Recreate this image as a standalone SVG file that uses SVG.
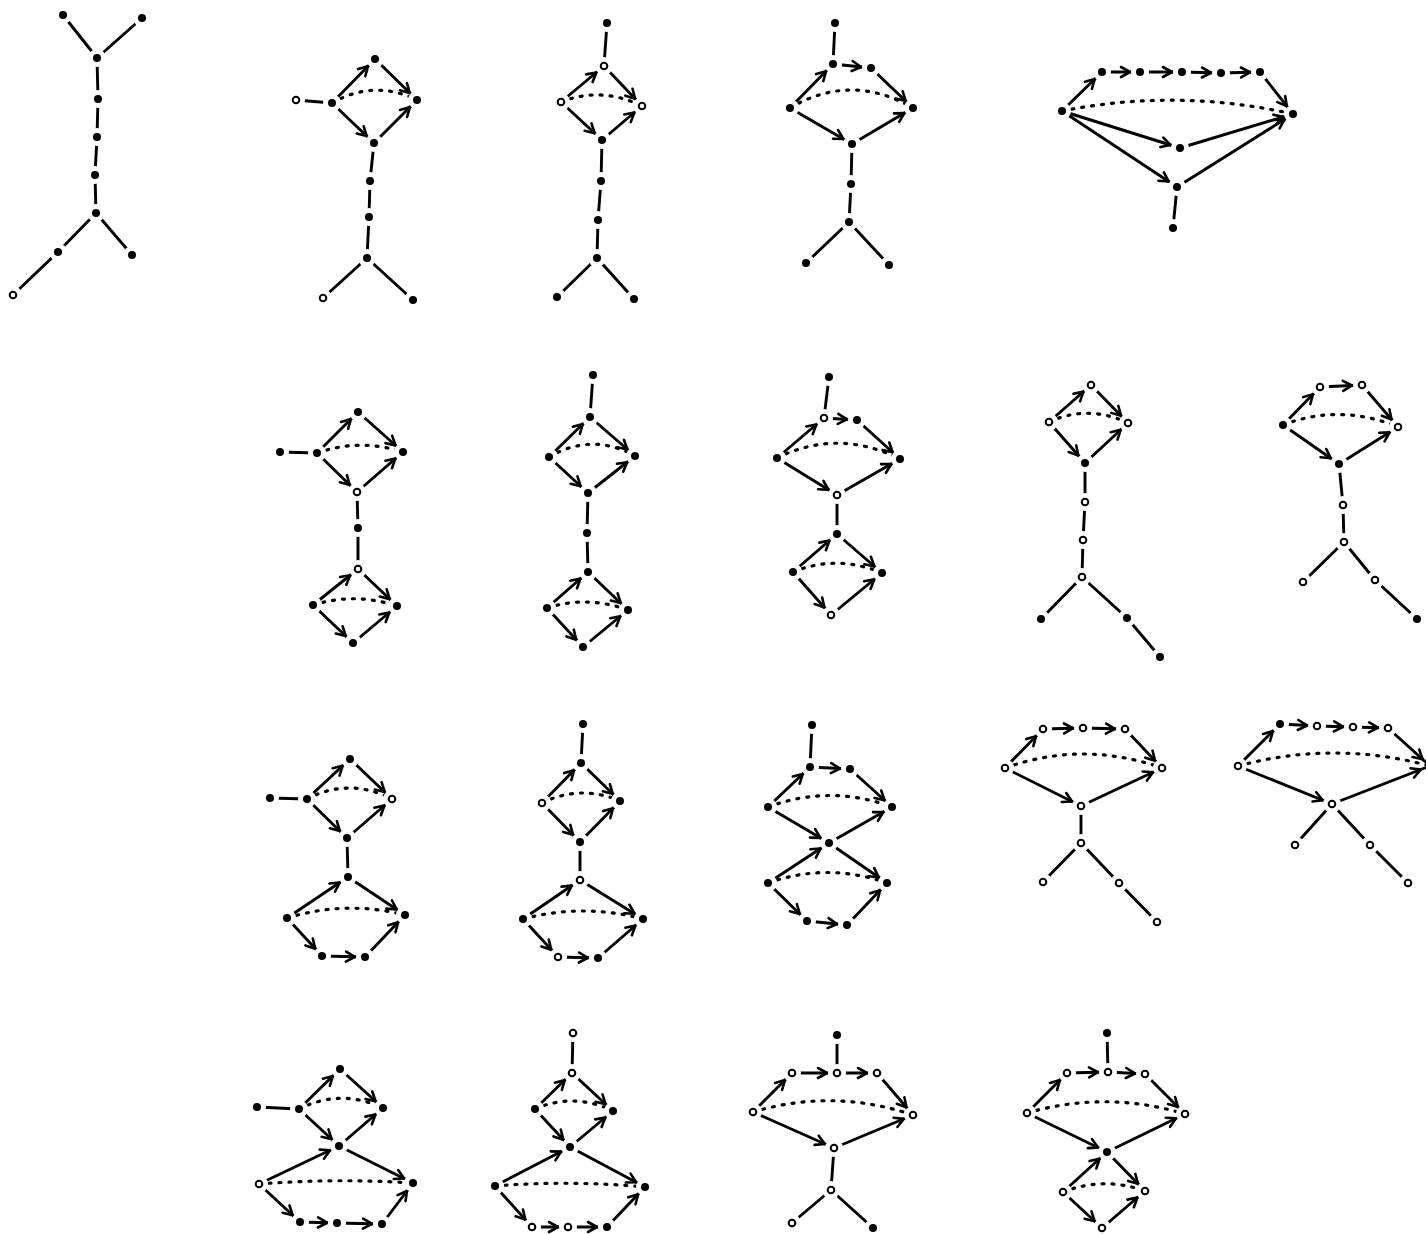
<svg xmlns="http://www.w3.org/2000/svg" xmlns:xlink="http://www.w3.org/1999/xlink" width="1426" height="1234" viewBox="0 0 1426 1234">
<style>
.l{fill:none;stroke:#000;stroke-width:2.9;stroke-linecap:round}
.a{fill:none;stroke:#000;stroke-width:2.9;stroke-linecap:round;marker-end:url(#ah)}
.d{fill:none;stroke:#000;stroke-width:3.2;stroke-linecap:round;stroke-dasharray:2 8}
</style>
<defs>
<marker id="ah" markerUnits="userSpaceOnUse" markerWidth="30" markerHeight="20" refX="20" refY="5" orient="auto" overflow="visible">
<path d="M1,0 L10,5 L1,10" fill="none" stroke="#000" stroke-width="2.6" stroke-linecap="round" stroke-linejoin="round"/>
</marker>
<g id="F"><circle r="9" fill="#fff"/><circle r="4" fill="#000"/></g>
<g id="O"><circle r="9" fill="#fff"/><circle r="3.3" fill="#fff" stroke="#000" stroke-width="2"/></g>
</defs>
<rect width="1426" height="1234" fill="#fff"/>
<g id="connectors">
<!-- G1 -->
<path class="l" d="M63,15L97,58M142,18L97,58M97,58L98,99M98,99L97,137M97,137L95,175M95,175L96,213M96,213L58,252M58,252L13,295M96,213L132,255"/>
<!-- G2 -->
<path class="l" d="M296,100L332,103M374,143L370,181M370,181L369,217M369,217L367,258M367,258L323,298M367,258L413,300"/>
<path class="a" d="M332,103L375,59"/><path class="a" d="M375,59L417,100"/><path class="a" d="M332,103L374,143"/><path class="a" d="M374,143L417,100"/>
<path class="d" d="M332,103Q374,79 417,100"/>
<!-- G3 -->
<path class="l" d="M607,23L604,66M602,140L601,181M601,181L598,220M598,220L597,258M597,258L557,297M597,258L634,299"/>
<path class="a" d="M561,102L604,66"/><path class="a" d="M604,66L642,106"/><path class="a" d="M561,102L602,140"/><path class="a" d="M602,140L642,106"/>
<path class="d" d="M561,102Q601,86 642,106"/>
<!-- G4 -->
<path class="l" d="M835,23L833,64M852,144L851,184M851,184L849,222M849,222L806,263M849,222L889,265"/>
<path class="a" d="M790,108L833,64"/><path class="a" d="M833,64L871,68"/><path class="a" d="M871,68L913,108"/><path class="a" d="M790,108L852,144"/><path class="a" d="M852,144L913,108"/>
<path class="d" d="M790,108Q851,72 913,108"/>
<!-- G5 -->
<path class="l" d="M1177,187L1173,228"/>
<path class="a" d="M1062,111L1102,72"/><path class="a" d="M1102,72L1140,72"/><path class="a" d="M1140,72L1182,72"/><path class="a" d="M1182,72L1221,73"/><path class="a" d="M1221,73L1260,72"/><path class="a" d="M1260,72L1293,114"/><path class="a" d="M1062,111L1180,148"/><path class="a" d="M1180,148L1293,114"/><path class="a" d="M1062,111L1177,187"/><path class="a" d="M1177,187L1293,114"/>
<path class="d" d="M1062,111Q1177,88 1293,114"/>
<!-- G6 -->
<path class="l" d="M280,452L317,453M357,492L358,528M358,528L358,569"/>
<path class="a" d="M317,453L358,412"/><path class="a" d="M358,412L403,452"/><path class="a" d="M317,453L357,492"/><path class="a" d="M357,492L403,452"/>
<path class="a" d="M313,605L358,569"/><path class="a" d="M358,569L397,606"/><path class="a" d="M313,605L353,643"/><path class="a" d="M353,643L397,606"/>
<path class="d" d="M317,453Q360,438 403,452"/><path class="d" d="M313,605Q355,592 397,606"/>
<!-- G7 -->
<path class="l" d="M593,375L590,417M588,493L587,533M587,533L588,572"/>
<path class="a" d="M549,457L590,417"/><path class="a" d="M590,417L635,456"/><path class="a" d="M549,457L588,493"/><path class="a" d="M588,493L635,456"/>
<path class="a" d="M547,608L588,572"/><path class="a" d="M588,572L628,610"/><path class="a" d="M547,608L583,647"/><path class="a" d="M583,647L628,610"/>
<path class="d" d="M549,457Q592,432 635,456"/><path class="d" d="M547,608Q587,595 628,610"/>
<!-- G8 -->
<path class="l" d="M829,377L824,418M837,495L837,534"/>
<path class="a" d="M777,458L824,418"/><path class="a" d="M824,418L857,420"/><path class="a" d="M857,420L900,459"/><path class="a" d="M777,458L837,495"/><path class="a" d="M837,495L900,459"/>
<path class="a" d="M793,572L837,534"/><path class="a" d="M837,534L882,573"/><path class="a" d="M793,572L831,615"/><path class="a" d="M831,615L882,573"/>
<path class="d" d="M777,458Q838,428 900,459"/><path class="d" d="M793,572Q837,554 882,573"/>
<!-- G9 -->
<path class="l" d="M1085,463L1085,502M1085,502L1083,540M1083,540L1082,577M1082,577L1041,619M1082,577L1127,618M1127,618L1160,657"/>
<path class="a" d="M1049,422L1091,385"/><path class="a" d="M1091,385L1128,423"/><path class="a" d="M1049,422L1085,463"/><path class="a" d="M1085,463L1128,423"/>
<path class="d" d="M1049,422Q1088,404 1128,423"/>
<!-- G10 -->
<path class="l" d="M1339,464L1343,505M1343,505L1344,542M1344,542L1303,582M1344,542L1375,580M1375,580L1417,619"/>
<path class="a" d="M1283,425L1320,387"/><path class="a" d="M1320,387L1362,385"/><path class="a" d="M1362,385L1398,427"/><path class="a" d="M1283,425L1339,464"/><path class="a" d="M1339,464L1398,427"/>
<path class="d" d="M1283,425Q1340,403 1398,427"/>
<!-- G11 -->
<path class="l" d="M270,798L307,799M347,838L348,877"/>
<path class="a" d="M307,799L350,759"/><path class="a" d="M350,759L392,799"/><path class="a" d="M307,799L347,838"/><path class="a" d="M347,838L392,799"/>
<path class="a" d="M287,918L348,877"/><path class="a" d="M348,877L405,915"/><path class="a" d="M287,918L322,956"/><path class="a" d="M322,956L365,957"/><path class="a" d="M365,957L405,915"/>
<path class="d" d="M307,799Q349,777 392,799"/><path class="d" d="M287,918Q346,900 405,915"/>
<!-- G12 -->
<path class="l" d="M583,724L581,763M580,842L580,880"/>
<path class="a" d="M542,803L581,763"/><path class="a" d="M581,763L620,801"/><path class="a" d="M542,803L580,842"/><path class="a" d="M580,842L620,801"/>
<path class="a" d="M523,919L580,880"/><path class="a" d="M580,880L643,919"/><path class="a" d="M523,919L558,957"/><path class="a" d="M558,957L598,958"/><path class="a" d="M598,958L643,919"/>
<path class="d" d="M542,803Q581,784 620,801"/><path class="d" d="M523,919Q583,903 643,919"/>
<!-- G13 -->
<path class="l" d="M812,725L810,767"/>
<path class="a" d="M768,807L810,767"/><path class="a" d="M810,767L850,769"/><path class="a" d="M850,769L892,807"/><path class="a" d="M768,807L829,843"/><path class="a" d="M829,843L892,807"/>
<path class="a" d="M768,883L829,843"/><path class="a" d="M829,843L887,883"/><path class="a" d="M768,883L807,921"/><path class="a" d="M807,921L847,925"/><path class="a" d="M847,925L887,883"/>
<path class="d" d="M768,807Q830,784 892,807"/><path class="d" d="M768,883Q827,862 887,883"/>
<!-- G14 -->
<path class="l" d="M1081,806L1081,843M1081,843L1043,882M1081,843L1119,883M1119,883L1157,922"/>
<path class="a" d="M1005,768L1043,729"/><path class="a" d="M1043,729L1083,728"/><path class="a" d="M1083,728L1125,729"/><path class="a" d="M1125,729L1162,768"/><path class="a" d="M1005,768L1081,806"/><path class="a" d="M1081,806L1162,768"/>
<path class="d" d="M1005,768Q1083,740 1162,768"/>
<!-- G15 -->
<path class="l" d="M1332,804L1295,845M1332,804L1370,845M1370,845L1408,883"/>
<path class="a" d="M1238,766L1280,724"/><path class="a" d="M1280,724L1317,726"/><path class="a" d="M1317,726L1353,727"/><path class="a" d="M1353,727L1388,728"/><path class="a" d="M1388,728L1430,766"/><path class="a" d="M1238,766L1332,804"/><path class="a" d="M1332,804L1430,766"/>
<path class="d" d="M1238,766Q1334,740 1430,766"/>
<!-- G16 -->
<path class="l" d="M257,1107L299,1109"/>
<path class="a" d="M299,1109L340,1069"/><path class="a" d="M340,1069L383,1108"/><path class="a" d="M299,1109L339,1146"/><path class="a" d="M339,1146L383,1108"/>
<path class="a" d="M259,1184L339,1146"/><path class="a" d="M339,1146L413,1183"/><path class="a" d="M259,1184L300,1222"/><path class="a" d="M300,1222L337,1223"/><path class="a" d="M337,1223L382,1224"/><path class="a" d="M382,1224L413,1183"/>
<path class="d" d="M299,1109Q341,1088 383,1108"/><path class="d" d="M259,1184Q336,1178 413,1183"/>
<!-- G17 -->
<path class="l" d="M573,1033L572,1073"/>
<path class="a" d="M535,1109L572,1073"/><path class="a" d="M572,1073L613,1111"/><path class="a" d="M535,1109L570,1147"/><path class="a" d="M570,1147L613,1111"/>
<path class="a" d="M495,1186L570,1147"/><path class="a" d="M570,1147L645,1187"/><path class="a" d="M495,1186L532,1227"/><path class="a" d="M532,1227L568,1227"/><path class="a" d="M568,1227L607,1227"/><path class="a" d="M607,1227L645,1187"/>
<path class="d" d="M535,1109Q574,1092 613,1111"/><path class="d" d="M495,1186Q570,1180 645,1187"/>
<!-- G18 -->
<path class="l" d="M837,1035L837,1073M834,1148L831,1190M831,1190L792,1223M831,1190L873,1228"/>
<path class="a" d="M753,1112L792,1073"/><path class="a" d="M792,1073L837,1073"/><path class="a" d="M837,1073L877,1073"/><path class="a" d="M877,1073L913,1115"/><path class="a" d="M753,1112L834,1148"/><path class="a" d="M834,1148L913,1115"/>
<path class="d" d="M753,1112Q833,1088 913,1115"/>
<!-- G19 -->
<path class="l" d="M1107,1033L1108,1072"/>
<path class="a" d="M1027,1113L1067,1073"/><path class="a" d="M1067,1073L1108,1072"/><path class="a" d="M1108,1072L1145,1074"/><path class="a" d="M1145,1074L1185,1114"/><path class="a" d="M1027,1113L1107,1152"/><path class="a" d="M1107,1152L1185,1114"/>
<path class="a" d="M1063,1192L1107,1152"/><path class="a" d="M1107,1152L1145,1191"/><path class="a" d="M1063,1192L1102,1228"/><path class="a" d="M1102,1228L1145,1191"/>
<path class="d" d="M1027,1113Q1106,1090 1185,1114"/><path class="d" d="M1063,1192Q1104,1176 1145,1191"/>
</g>
<g id="nodes">
<g id="graph1">
<use id="g1n1" href="#F" x="63" y="15"/><use id="g1n2" href="#F" x="142" y="18"/><use id="g1n3" href="#F" x="97" y="58"/><use id="g1n4" href="#F" x="98" y="99"/><use id="g1n5" href="#F" x="97" y="137"/><use id="g1n6" href="#F" x="95" y="175"/><use id="g1n7" href="#F" x="96" y="213"/><use id="g1n8" href="#F" x="58" y="252"/><use id="g1n9" href="#O" x="13" y="295"/><use id="g1n10" href="#F" x="132" y="255"/>
</g>
<g id="graph2">
<use id="g2n1" href="#O" x="296" y="100"/><use id="g2n2" href="#F" x="332" y="103"/><use id="g2n3" href="#F" x="375" y="59"/><use id="g2n4" href="#F" x="417" y="100"/><use id="g2n5" href="#F" x="374" y="143"/><use id="g2n6" href="#F" x="370" y="181"/><use id="g2n7" href="#F" x="369" y="217"/><use id="g2n8" href="#F" x="367" y="258"/><use id="g2n9" href="#O" x="323" y="298"/><use id="g2n10" href="#F" x="413" y="300"/>
</g>
<g id="graph3">
<use id="g3n1" href="#F" x="607" y="23"/><use id="g3n2" href="#O" x="604" y="66"/><use id="g3n3" href="#O" x="561" y="102"/><use id="g3n4" href="#O" x="642" y="106"/><use id="g3n5" href="#F" x="602" y="140"/><use id="g3n6" href="#F" x="601" y="181"/><use id="g3n7" href="#F" x="598" y="220"/><use id="g3n8" href="#F" x="597" y="258"/><use id="g3n9" href="#F" x="557" y="297"/><use id="g3n10" href="#F" x="634" y="299"/>
</g>
<g id="graph4">
<use id="g4n1" href="#F" x="835" y="23"/><use id="g4n2" href="#F" x="833" y="64"/><use id="g4n3" href="#F" x="871" y="68"/><use id="g4n4" href="#F" x="790" y="108"/><use id="g4n5" href="#F" x="913" y="108"/><use id="g4n6" href="#F" x="852" y="144"/><use id="g4n7" href="#F" x="851" y="184"/><use id="g4n8" href="#F" x="849" y="222"/><use id="g4n9" href="#F" x="806" y="263"/><use id="g4n10" href="#F" x="889" y="265"/>
</g>
<g id="graph5">
<use id="g5n1" href="#F" x="1062" y="111"/><use id="g5n2" href="#F" x="1102" y="72"/><use id="g5n3" href="#F" x="1140" y="72"/><use id="g5n4" href="#F" x="1182" y="72"/><use id="g5n5" href="#F" x="1221" y="73"/><use id="g5n6" href="#F" x="1260" y="72"/><use id="g5n7" href="#F" x="1293" y="114"/><use id="g5n8" href="#F" x="1180" y="148"/><use id="g5n9" href="#F" x="1177" y="187"/><use id="g5n10" href="#F" x="1173" y="228"/>
</g>
<g id="graph6">
<use id="g6n1" href="#F" x="280" y="452"/><use id="g6n2" href="#F" x="317" y="453"/><use id="g6n3" href="#F" x="358" y="412"/><use id="g6n4" href="#F" x="403" y="452"/><use id="g6n5" href="#O" x="357" y="492"/><use id="g6n6" href="#F" x="358" y="528"/><use id="g6n7" href="#O" x="358" y="569"/><use id="g6n8" href="#F" x="313" y="605"/><use id="g6n9" href="#F" x="397" y="606"/><use id="g6n10" href="#F" x="353" y="643"/>
</g>
<g id="graph7">
<use id="g7n1" href="#F" x="593" y="375"/><use id="g7n2" href="#F" x="590" y="417"/><use id="g7n3" href="#F" x="549" y="457"/><use id="g7n4" href="#F" x="635" y="456"/><use id="g7n5" href="#F" x="588" y="493"/><use id="g7n6" href="#F" x="587" y="533"/><use id="g7n7" href="#F" x="588" y="572"/><use id="g7n8" href="#F" x="547" y="608"/><use id="g7n9" href="#F" x="628" y="610"/><use id="g7n10" href="#F" x="583" y="647"/>
</g>
<g id="graph8">
<use id="g8n1" href="#F" x="829" y="377"/><use id="g8n2" href="#O" x="824" y="418"/><use id="g8n3" href="#F" x="857" y="420"/><use id="g8n4" href="#F" x="777" y="458"/><use id="g8n5" href="#F" x="900" y="459"/><use id="g8n6" href="#O" x="837" y="495"/><use id="g8n7" href="#F" x="837" y="534"/><use id="g8n8" href="#F" x="793" y="572"/><use id="g8n9" href="#F" x="882" y="573"/><use id="g8n10" href="#O" x="831" y="615"/>
</g>
<g id="graph9">
<use id="g9n1" href="#O" x="1091" y="385"/><use id="g9n2" href="#O" x="1049" y="422"/><use id="g9n3" href="#O" x="1128" y="423"/><use id="g9n4" href="#F" x="1085" y="463"/><use id="g9n5" href="#O" x="1085" y="502"/><use id="g9n6" href="#O" x="1083" y="540"/><use id="g9n7" href="#O" x="1082" y="577"/><use id="g9n8" href="#F" x="1041" y="619"/><use id="g9n9" href="#F" x="1127" y="618"/><use id="g9n10" href="#F" x="1160" y="657"/>
</g>
<g id="graph10">
<use id="g10n1" href="#O" x="1320" y="387"/><use id="g10n2" href="#O" x="1362" y="385"/><use id="g10n3" href="#F" x="1283" y="425"/><use id="g10n4" href="#O" x="1398" y="427"/><use id="g10n5" href="#F" x="1339" y="464"/><use id="g10n6" href="#O" x="1343" y="505"/><use id="g10n7" href="#O" x="1344" y="542"/><use id="g10n8" href="#O" x="1303" y="582"/><use id="g10n9" href="#O" x="1375" y="580"/><use id="g10n10" href="#F" x="1417" y="619"/>
</g>
<g id="graph11">
<use id="g11n1" href="#F" x="270" y="798"/><use id="g11n2" href="#F" x="307" y="799"/><use id="g11n3" href="#F" x="350" y="759"/><use id="g11n4" href="#O" x="392" y="799"/><use id="g11n5" href="#F" x="347" y="838"/><use id="g11n6" href="#F" x="348" y="877"/><use id="g11n7" href="#F" x="287" y="918"/><use id="g11n8" href="#F" x="405" y="915"/><use id="g11n9" href="#F" x="322" y="956"/><use id="g11n10" href="#F" x="365" y="957"/>
</g>
<g id="graph12">
<use id="g12n1" href="#F" x="583" y="724"/><use id="g12n2" href="#F" x="581" y="763"/><use id="g12n3" href="#O" x="542" y="803"/><use id="g12n4" href="#F" x="620" y="801"/><use id="g12n5" href="#F" x="580" y="842"/><use id="g12n6" href="#O" x="580" y="880"/><use id="g12n7" href="#F" x="523" y="919"/><use id="g12n8" href="#F" x="643" y="919"/><use id="g12n9" href="#O" x="558" y="957"/><use id="g12n10" href="#F" x="598" y="958"/>
</g>
<g id="graph13">
<use id="g13n1" href="#F" x="812" y="725"/><use id="g13n2" href="#F" x="810" y="767"/><use id="g13n3" href="#F" x="850" y="769"/><use id="g13n4" href="#F" x="768" y="807"/><use id="g13n5" href="#F" x="892" y="807"/><use id="g13n6" href="#F" x="829" y="843"/><use id="g13n7" href="#F" x="768" y="883"/><use id="g13n8" href="#F" x="887" y="883"/><use id="g13n9" href="#F" x="807" y="921"/><use id="g13n10" href="#F" x="847" y="925"/>
</g>
<g id="graph14">
<use id="g14n1" href="#O" x="1043" y="729"/><use id="g14n2" href="#O" x="1083" y="728"/><use id="g14n3" href="#O" x="1125" y="729"/><use id="g14n4" href="#O" x="1005" y="768"/><use id="g14n5" href="#O" x="1162" y="768"/><use id="g14n6" href="#O" x="1081" y="806"/><use id="g14n7" href="#O" x="1081" y="843"/><use id="g14n8" href="#O" x="1043" y="882"/><use id="g14n9" href="#O" x="1119" y="883"/><use id="g14n10" href="#O" x="1157" y="922"/>
</g>
<g id="graph15">
<use id="g15n1" href="#O" x="1238" y="766"/><use id="g15n2" href="#F" x="1280" y="724"/><use id="g15n3" href="#O" x="1317" y="726"/><use id="g15n4" href="#O" x="1353" y="727"/><use id="g15n5" href="#O" x="1388" y="728"/><use id="g15n6" href="#O" x="1332" y="804"/><use id="g15n7" href="#O" x="1295" y="845"/><use id="g15n8" href="#O" x="1370" y="845"/><use id="g15n9" href="#O" x="1408" y="883"/>
</g>
<g id="graph16">
<use id="g16n1" href="#F" x="257" y="1107"/><use id="g16n2" href="#F" x="299" y="1109"/><use id="g16n3" href="#F" x="340" y="1069"/><use id="g16n4" href="#F" x="383" y="1108"/><use id="g16n5" href="#F" x="339" y="1146"/><use id="g16n6" href="#O" x="259" y="1184"/><use id="g16n7" href="#F" x="413" y="1183"/><use id="g16n8" href="#F" x="300" y="1222"/><use id="g16n9" href="#F" x="337" y="1223"/><use id="g16n10" href="#F" x="382" y="1224"/>
</g>
<g id="graph17">
<use id="g17n1" href="#O" x="573" y="1033"/><use id="g17n2" href="#O" x="572" y="1073"/><use id="g17n3" href="#F" x="535" y="1109"/><use id="g17n4" href="#F" x="613" y="1111"/><use id="g17n5" href="#F" x="570" y="1147"/><use id="g17n6" href="#F" x="495" y="1186"/><use id="g17n7" href="#F" x="645" y="1187"/><use id="g17n8" href="#O" x="532" y="1227"/><use id="g17n9" href="#O" x="568" y="1227"/><use id="g17n10" href="#F" x="607" y="1227"/>
</g>
<g id="graph18">
<use id="g18n1" href="#F" x="837" y="1035"/><use id="g18n2" href="#O" x="792" y="1073"/><use id="g18n3" href="#O" x="837" y="1073"/><use id="g18n4" href="#O" x="877" y="1073"/><use id="g18n5" href="#O" x="753" y="1112"/><use id="g18n6" href="#O" x="913" y="1115"/><use id="g18n7" href="#O" x="834" y="1148"/><use id="g18n8" href="#O" x="831" y="1190"/><use id="g18n9" href="#O" x="792" y="1223"/><use id="g18n10" href="#F" x="873" y="1228"/>
</g>
<g id="graph19">
<use id="g19n1" href="#F" x="1107" y="1033"/><use id="g19n2" href="#O" x="1067" y="1073"/><use id="g19n3" href="#O" x="1108" y="1072"/><use id="g19n4" href="#O" x="1145" y="1074"/><use id="g19n5" href="#O" x="1027" y="1113"/><use id="g19n6" href="#O" x="1185" y="1114"/><use id="g19n7" href="#F" x="1107" y="1152"/><use id="g19n8" href="#O" x="1063" y="1192"/><use id="g19n9" href="#O" x="1145" y="1191"/><use id="g19n10" href="#O" x="1102" y="1228"/>
</g>
</g>
</svg>
